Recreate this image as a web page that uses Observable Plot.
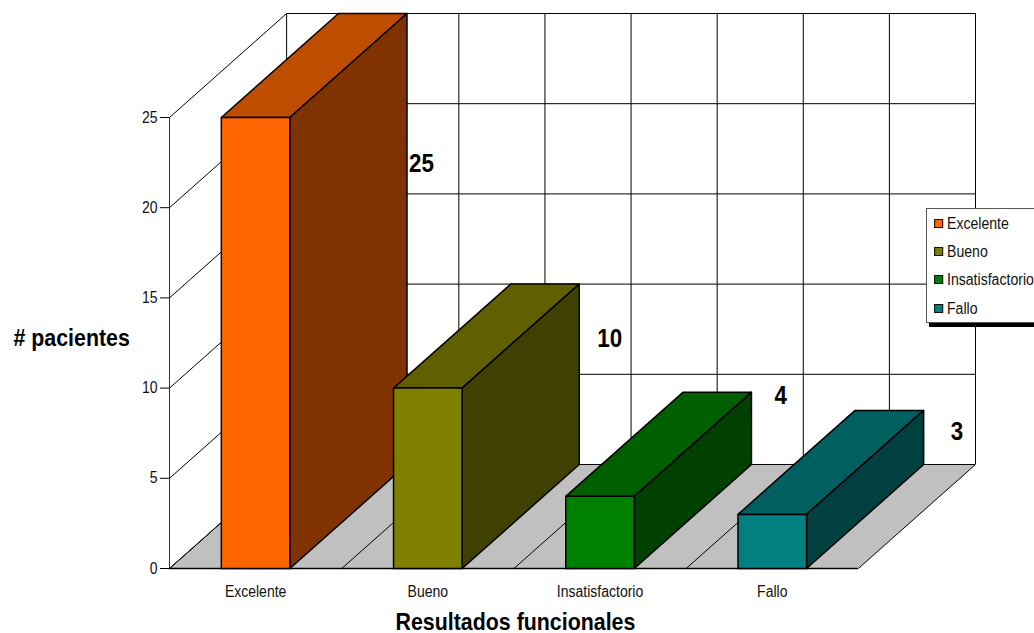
<!DOCTYPE html>
<html lang="es">
<head>
<meta charset="utf-8">
<title>Resultados funcionales</title>
<script src="https://cdn.jsdelivr.net/npm/d3@7"></script>
<script src="https://cdn.jsdelivr.net/npm/@observablehq/plot@0.6"></script>
<style>
  html, body { margin: 0; padding: 0; background: #fff; overflow: hidden; }
  #chart { position: relative; width: 1034px; height: 633px; overflow: hidden; font-family: "Liberation Sans", Arial, sans-serif; }
  #chart svg { display: block; }
  #legend { position: absolute; left: 926px; top: 208px; width: 120px; height: 115px; background: #fff;
            border: 1px solid #555; box-shadow: 3px 4px 0 #000; box-sizing: border-box; }
  #legend div { position: absolute; left: 20px; font-size: 16px; line-height: 18px; color: #111; white-space: nowrap;
                transform: scaleX(0.88); transform-origin: left center; }
  #legend i { position: absolute; left: -14px; top: 4px; width: 7px; height: 7px; border: 1.5px solid #111; }
</style>
</head>
<body>
<div id="chart"></div>
<script>
// Values of the chart
const categorias = ["Excelente", "Bueno", "Insatisfactorio", "Fallo"];
const pacientes = [25, 10, 4, 3];
const yTicks = [0, 5, 10, 15, 20, 25];

// Face colours of each bar
const colorFrente = ["#ff6600", "#808000", "#008000", "#008080"];
const colorTecho = ["#bf4d00", "#606000", "#006000", "#006060"];
const colorLado = ["#803300", "#404000", "#004000", "#004040"];

// Oblique projection: the depth axis runs up and to the right
const fondoX = 0.68;
const fondoY = 5.765;
const anchoBarra = 0.199;
const pos = (x, y, z) => ({ x: x + z * fondoX, y: y + z * fondoY });
const cara = (puntos, fill, stroke, strokeWidth) =>
  Plot.line(puntos.map(([x, y, z]) => pos(x, y, z)), { x: "x", y: "y", fill, stroke, strokeWidth, curve: "linear-closed" });

// Walls and floor
const n = categorias.length;
const pasosX = d3.range(0, n + 0.25, 0.5);
const fondo = [
  cara([[0, 0, 0], [n, 0, 0], [n, 0, 1], [0, 0, 1]], "#c0c0c0", "none", 0),
  Plot.ruleX(pasosX, { x: d => d + fondoX, y1: fondoY, y2: 25 + fondoY, stroke: "#000", strokeWidth: 1 }),
  Plot.ruleY(yTicks, { y: d => d + fondoY, x1: fondoX, x2: n + fondoX, stroke: "#000", strokeWidth: 1 }),
  Plot.ruleX([0], { y1: 0, y2: 25, stroke: "#333", strokeWidth: 1 }),
  Plot.link(yTicks, { x1: 0, y1: d => d, x2: fondoX, y2: d => d + fondoY, stroke: "#000", strokeWidth: 1 }),
  Plot.link(pasosX, { x1: d => d, y1: 0, x2: d => d + fondoX, y2: fondoY, stroke: "#000", strokeWidth: 1 }),
  Plot.ruleY([0], { x1: 0, x2: n, stroke: "#000", strokeWidth: 1.5 })
];

// Each bar is three visible faces of a box
const barras = categorias.flatMap((_, i) => {
  const v = pacientes[i], a = i + 0.5 - anchoBarra, b = i + 0.5 + anchoBarra;
  return [
    cara([[a, v, 0], [b, v, 0], [b, v, 1], [a, v, 1]], colorTecho[i], "#000", 1.5),
    cara([[b, 0, 0], [b, 0, 1], [b, v, 1], [b, v, 0]], colorLado[i], "#000", 1.5),
    cara([[a, 0, 0], [b, 0, 0], [b, v, 0], [a, v, 0]], colorFrente[i], "#000", 1.5)
  ];
});

// Value labels beside each bar, nudged off the box corner
const desplazamiento = [[2, 150], [18, 55], [23, 3], [27, 21]];
const etiquetas = categorias.map((_, i) =>
  Plot.text([pacientes[i]], {
    x: i + 0.5 + anchoBarra + fondoX,
    y: pacientes[i] + fondoY,
    text: d => String(d),
    dx: desplazamiento[i][0],
    dy: desplazamiento[i][1],
    textAnchor: "start",
    fontSize: 26,
    fontWeight: "bold",
    fill: "#000"
  })
);

const plot = Plot.plot({
  width: 1034,
  height: 633,
  marginLeft: 169,
  marginRight: 59,
  marginTop: 13,
  marginBottom: 65,
  style: { background: "transparent", fontFamily: "'Liberation Sans', Arial, sans-serif", overflow: "visible" },
  x: { domain: [0, n + fondoX], axis: null },
  y: { domain: [0, 25 + fondoY], axis: null },
  marks: [
    ...fondo,
    ...barras,
    ...etiquetas,
    Plot.axisY(yTicks, { anchor: "left", tickSize: 9, tickPadding: 3, fontSize: 16, label: null, stroke: "#000", color: "#111" }),
    Plot.axisX(categorias.map((_, i) => i + 0.5), {
      anchor: "bottom", tickSize: 0, tickPadding: 17, fontSize: 16, label: null, color: "#111",
      tickFormat: d => categorias[Math.floor(d)]
    }),
    Plot.text(["# pacientes"], { frameAnchor: "left", y: 12.75, dx: -156, textAnchor: "start", fontSize: 24, fontWeight: "bold", fill: "#000" }),
    Plot.text(["Resultados funcionales"], { x: 2, frameAnchor: "bottom", dx: 1.5, dy: 61, fontSize: 24, fontWeight: "bold", fill: "#000" })
  ]
});
const chart = document.getElementById("chart");
chart.appendChild(plot);

// The lettering is a narrow cut of the sans face: condense each label by its size
const condensado = { 16: 0.875, 24: 0.89, 26: 0.86 };
plot.querySelectorAll("text").forEach(t => {
  const k = condensado[parseFloat(getComputedStyle(t).fontSize)] || 1;
  t.setAttribute("textLength", t.getComputedTextLength() * k);
  t.setAttribute("lengthAdjust", "spacingAndGlyphs");
});

// Legend box, running past the right edge of the page
const leyenda = document.createElement("div");
leyenda.id = "legend";
categorias.forEach((c, i) => {
  const fila = document.createElement("div");
  fila.style.top = (6 + i * 28.2) + "px";
  fila.textContent = c;
  const muestra = document.createElement("i");
  muestra.style.background = colorFrente[i];
  muestra.style.transform = "scaleX(1.14)";
  fila.appendChild(muestra);
  leyenda.appendChild(fila);
});
chart.appendChild(leyenda);
</script>
</body>
</html>
